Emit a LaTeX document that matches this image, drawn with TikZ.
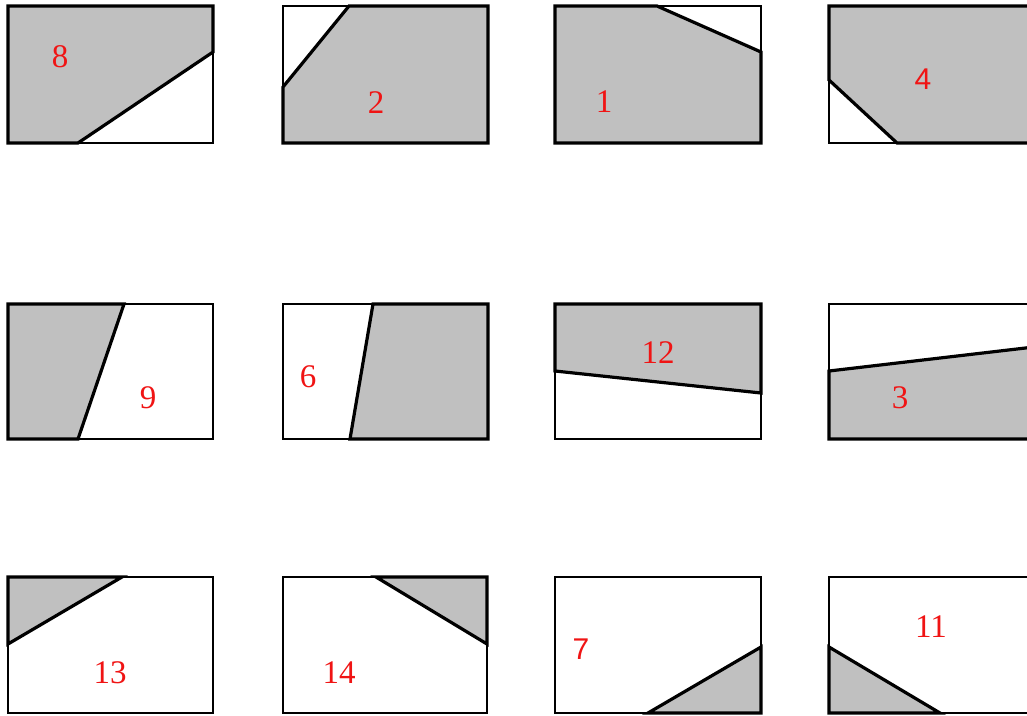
\documentclass[tikz,border=0pt]{standalone}
\usepackage{fontspec}
\setmainfont{Liberation Serif}
\newfontfamily\labsans{Liberation Sans}
\definecolor{grayfill}{RGB}{192,192,192}
\definecolor{labred}{RGB}{240,20,20}
\tikzset{
  box/.style={draw=black, line width=1.7pt},
  region/.style={draw=black, line width=3.2pt, line join=miter},
  zone/.style={fill=grayfill},
  lab/.style={text=labred, inner sep=0pt, font=\fontsize{33}{34}\selectfont},
  labs/.style={text=labred, inner sep=0pt, font=\labsans\fontsize{30}{34}\selectfont},
}
\begin{document}
\begin{tikzpicture}[x=1pt,y=-1pt]
\useasboundingbox (0,0) rectangle (1027,715);
\clip (0,0) rectangle (1027,715);
\fill[white] (0,0) rectangle (1027,715);
% Row 1
\fill[zone] (8,6) -- (213,6) -- (213,52) -- (78,143) -- (8,143) -- cycle;
\draw[box] (8,6) rectangle (213,143);
\draw[region] (8,6) -- (213,6) -- (213,52) -- (78,143) -- (8,143) -- cycle;
\node[lab] (l8) at (60,57) {8};

\fill[zone] (349,6) -- (488,6) -- (488,143) -- (283,143) -- (283,87) -- cycle;
\draw[box] (283,6) rectangle (488,143);
\draw[region] (349,6) -- (488,6) -- (488,143) -- (283,143) -- (283,87) -- cycle;
\node[lab] (l2) at (376,103) {2};

\fill[zone] (555,6) -- (657,6) -- (761,52) -- (761,143) -- (555,143) -- cycle;
\draw[box] (555,6) rectangle (761,143);
\draw[region] (555,6) -- (657,6) -- (761,52) -- (761,143) -- (555,143) -- cycle;
\node[lab] (l1) at (604,102) {1};

\fill[zone] (829,6) -- (1034,6) -- (1034,143) -- (897,143) -- (829,80) -- cycle;
\draw[box] (829,6) rectangle (1034,143);
\draw[region] (829,6) -- (1034,6) -- (1034,143) -- (897,143) -- (829,80) -- cycle;
\node[labs] (l4) at (923,79) {4};

% Row 2
\fill[zone] (8,304) -- (124,304) -- (78,439) -- (8,439) -- cycle;
\draw[box] (8,304) rectangle (213,439);
\draw[region] (8,304) -- (124,304) -- (78,439) -- (8,439) -- cycle;
\node[lab] (l9) at (148,398) {9};

\fill[zone] (373,304) -- (488,304) -- (488,439) -- (350,439) -- cycle;
\draw[box] (283,304) rectangle (488,439);
\draw[region] (373,304) -- (488,304) -- (488,439) -- (350,439) -- cycle;
\node[lab] (l6) at (308,377) {6};

\fill[zone] (555,304) -- (761,304) -- (761,393) -- (555,371) -- cycle;
\draw[box] (555,304) rectangle (761,439);
\draw[region] (555,304) -- (761,304) -- (761,393) -- (555,371) -- cycle;
\node[lab] (l12) at (658,353) {12};

\fill[zone] (829,371) -- (1034,347) -- (1034,439) -- (829,439) -- cycle;
\draw[box] (829,304) rectangle (1034,439);
\draw[region] (829,371) -- (1034,347) -- (1034,439) -- (829,439) -- cycle;
\node[lab] (l3) at (900,398) {3};

% Row 3
\fill[zone] (8,577) -- (122,577) -- (8,644) -- cycle;
\draw[box] (8,577) rectangle (213,713);
\draw[region] (8,577) -- (122,577) -- (8,644) -- cycle;
\node[lab] (l13) at (110,673) {13};

\fill[zone] (376,577) -- (487,577) -- (487,644) -- cycle;
\draw[box] (283,577) rectangle (487,713);
\draw[region] (376,577) -- (487,577) -- (487,644) -- cycle;
\node[lab] (l14) at (339,673) {14};

\fill[zone] (648,713) -- (761,647) -- (761,713) -- cycle;
\draw[box] (555,577) rectangle (761,713);
\draw[region] (648,713) -- (761,647) -- (761,713) -- cycle;
\node[labs] (l7) at (581,649) {7};

\fill[zone] (829,647) -- (940,713) -- (829,713) -- cycle;
\draw[box] (829,577) rectangle (1034,713);
\draw[region] (829,647) -- (940,713) -- (829,713) -- cycle;
\node[lab] (l11) at (931,627) {11};
\end{tikzpicture}
\end{document}
